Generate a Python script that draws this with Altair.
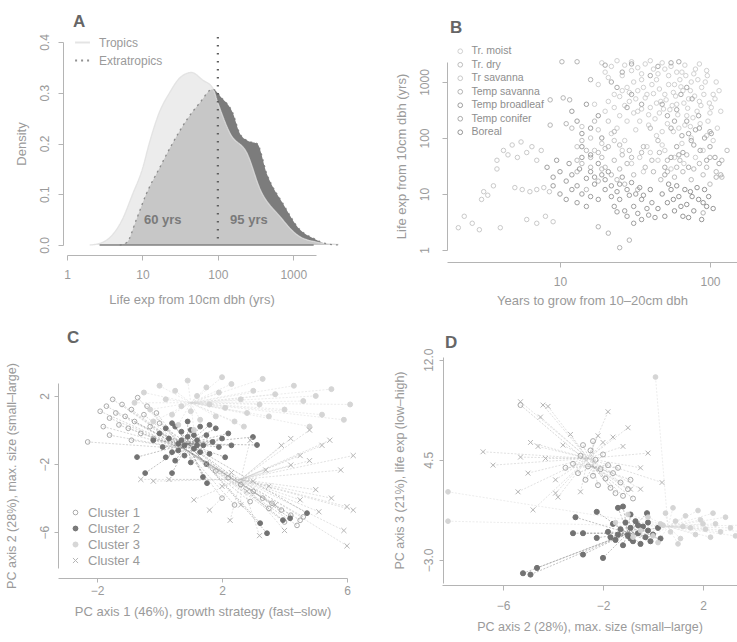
import altair as alt
import pandas as pd

W, H = 737, 642
FONT = "Liberation Sans"
AX_COL = "#b4b4b4"
TX_COL = "#9a9a9a"

# ---------------- Panel A: density of life expectancy ----------------
trop_yrs = [2.0, 2.7, 4.0, 5.4, 7.4, 10, 12.3, 16.6, 22.9, 31.6, 44.7, 63, 85, 100, 145, 245, 363, 676, 1122, 2000, 4000]
trop_den = [0.0, 0.003, 0.02, 0.05, 0.10, 0.15, 0.20, 0.26, 0.30, 0.33, 0.34, 0.325, 0.31, 0.28, 0.22, 0.18, 0.11, 0.055, 0.02, 0.006, 0.001]
extra_yrs = [5, 6.2, 8.3, 11.2, 16.6, 25, 40, 57.5, 85, 112, 158, 195, 251, 331, 447, 741, 1230, 1862, 2818, 4000]
extra_den = [0.0, 0.005, 0.05, 0.10, 0.15, 0.20, 0.25, 0.28, 0.307, 0.29, 0.26, 0.22, 0.205, 0.20, 0.14, 0.08, 0.03, 0.013, 0.002, 0.0]
a_regions = ["Tropics", "Extratropics"]
a_split = [100]
a_split_top = [0.41]
a_labels = ["60 yrs", "95 yrs"]
a_label_yrs = [18.6, 258]
a_label_den = [0.05, 0.05]

# ---------------- Panel B: growth vs life expectancy by biome ----------------
biomes = ["Tr. moist", "Tr. dry", "Tr savanna", "Temp savanna", "Temp broadleaf", "Temp conifer", "Boreal"]
b_tr_moist = [(19, 2200), (22, 1900), (24, 2400), (27, 2000), (30, 2300), (33, 1800), (37, 2100), (42, 1700), (48, 2200),
              (55, 1900), (60, 1500), (68, 2000), (80, 1700), (95, 1600),
              (18, 900), (21, 1200), (26, 700), (31, 1000), (36, 800), (44, 1100), (50, 600), (58, 900), (66, 700),
              (75, 1000), (88, 800), (105, 600),
              (17, 400), (20, 300), (25, 250), (29, 450), (34, 200), (40, 350), (46, 280), (52, 180), (60, 400),
              (70, 250), (82, 300), (97, 200), (112, 150),
              (22, 120), (27, 90), (32, 140), (38, 70), (44, 110), (50, 60), (57, 130), (65, 80), (75, 100), (90, 60),
              (30, 35), (36, 25), (45, 40), (55, 28),
              (20, 1500), (23, 600), (26, 1300), (28, 800), (32, 500), (35, 1400), (38, 600), (41, 900), (47, 450),
              (53, 1300), (57, 650), (63, 1100), (72, 500), (78, 1400), (85, 450), (93, 1000), (102, 350),
              (110, 1000), (24, 150), (28, 200), (33, 300), (39, 170), (43, 220), (48, 130), (54, 320), (62, 150),
              (68, 170), (74, 160), (86, 180), (100, 280), (118, 300), (26, 60), (34, 45), (40, 55), (48, 75),
              (58, 45), (67, 35), (80, 45), (95, 110), (105, 90),
              (21, 450), (23, 350), (25, 550), (27, 380), (29, 650), (31, 280), (33, 700), (35, 330), (37, 520),
              (39, 260), (42, 620), (44, 420), (46, 750), (49, 330), (51, 480), (53, 900), (56, 380), (59, 560),
              (61, 260), (64, 820), (67, 420), (69, 1300), (71, 340), (74, 700), (77, 230), (79, 560), (83, 1100),
              (87, 380), (91, 600), (96, 1300), (99, 420), (108, 500), (115, 700), (30, 1600), (40, 2400),
              (50, 1700), (65, 1500), (45, 1400), (35, 1100), (85, 2100)]
b_tr_dry = [(12, 150), (14, 90), (15, 60), (17, 200), (13, 40), (16, 30), (19, 45), (21, 70), (23, 130), (26, 50),
            (28, 35), (31, 22), (24, 18), (35, 55), (40, 150), (45, 90), (60, 30), (70, 50), (85, 35), (100, 45),
            (110, 25), (120, 20),
            (13, 25), (15, 12), (18, 17), (20, 30), (22, 22), (25, 28), (27, 15), (30, 45), (33, 12), (37, 30),
            (42, 25), (47, 18), (52, 40), (58, 20), (66, 25), (75, 18), (90, 22), (100, 15), (120, 40), (130, 60),
            (14, 35), (16, 45), (18, 55), (20, 65), (19, 28), (23, 40), (25, 75), (29, 60), (36, 70), (41, 40),
            (46, 55), (52, 25), (63, 40), (78, 28), (95, 30)]
b_tr_sav = [(2.1, 2.5), (2.3, 4.0), (2.6, 3.0), (3.0, 8.0), (3.1, 11), (3.3, 9.5), (3.6, 14), (3.8, 28), (3.8, 40),
            (4.2, 60), (4.5, 50), (4.8, 75), (5.2, 45), (5.5, 85), (6.0, 55), (6.5, 70), (7.0, 40), (7.5, 60),
            (5.0, 13), (5.6, 12), (6.3, 11), (7.0, 12), (7.8, 13), (8.5, 11), (6.0, 3.5), (7.0, 3.0), (8.0, 4.0),
            (9.0, 3.2), (4.0, 2.5), (2.9, 2.3),
            (16, 100), (18, 140), (21, 200), (14, 160), (19, 80), (23, 90), (17, 60), (13, 70)]
b_temp_sav = [(10.3, 2300), (13, 2300), (16, 1100), (10.5, 520), (11.6, 480), (8.6, 170), (11, 180), (8.6, 480),
              (18, 2.6), (21, 2.0), (29, 1.5), (25, 1.1), (110, 20), (90, 4.6), (118, 22), (100, 130)]
b_temp_broad = [(8.2, 30), (9, 20), (9.5, 40), (10, 25), (11, 17), (11.5, 35), (12, 22), (13, 14), (13.5, 28),
                (14, 45), (15, 19), (16, 25), (17, 15), (18, 35), (19, 22), (25, 8), (27, 5), (29, 9.5), (31, 6),
                (33, 4.5), (35, 8), (38, 5.5), (41, 7), (12, 300), (13, 200), (14, 120), (15, 400), (16, 150),
                (18, 250), (19, 100), (14, 70), (16, 50), (17, 20), (20, 12), (22, 9), (23, 6), (25, 15), (21, 25),
                (9, 14), (10, 10), (11, 8), (12, 12), (13, 7), (14, 10), (15, 6), (16, 9), (18, 8), (20, 18),
                (22, 14), (24, 11), (26, 20), (28, 12), (30, 16), (32, 10), (34, 13), (36, 9.5), (28, 4), (31, 3),
                (35, 3.5), (39, 4.2), (43, 3.8), (24, 4.8)]
b_temp_con = [(48, 400), (52, 250), (55, 150), (60, 320), (65, 110), (70, 200), (75, 90), (80, 140), (86, 60),
              (92, 100), (100, 70), (108, 45), (115, 35), (62, 50), (72, 30), (50, 22), (26, 1500), (30, 600),
              (35, 400), (40, 1300), (28, 350),
              (50, 30), (55, 45), (60, 70), (66, 55), (72, 120), (78, 75), (85, 150), (95, 40), (102, 120),
              (58, 200), (64, 600), (70, 800), (76, 500), (84, 250),
              (20, 2000), (22, 1000), (24, 800), (30, 2100), (45, 1900), (55, 2200), (62, 2300)]
b_boreal = [(48, 10), (52, 7), (55, 12), (58, 5), (62, 9), (66, 4), (70, 6.5), (74, 11), (78, 5), (84, 8),
            (88, 3.5), (95, 6), (45, 5.5), (40, 12), (60, 14),
            (50, 4), (53, 15), (57, 8), (64, 6), (68, 12), (72, 3.8), (76, 9), (82, 13), (90, 7), (98, 9),
            (105, 5.5), (92, 12)]
b_sets = [b_tr_moist, b_tr_dry, b_tr_sav, b_temp_sav, b_temp_broad, b_temp_con, b_boreal]
b_colors = ["#cdcdcd", "#b7b7b7", "#c4c4c4", "#adadad", "#959595", "#a3a3a3", "#8b8b8b"]

# ---------------- Panels C & D: PCA clusters ----------------
clusters = ["Cluster 1", "Cluster 2", "Cluster 3", "Cluster 4"]
c_centroids = [(0.8, -1.1), (0.9, -0.8), (1.0, 1.6), (2.6, -2.9)]
c_c1 = [(-1.9, 1.1), (-1.7, 1.4), (-1.6, 0.7), (-1.5, 1.8), (-1.4, 1.0), (-1.3, 0.3), (-1.2, 1.5), (-1.1, 0.8),
        (-1.0, 0.1), (-0.9, 1.2), (-0.8, 0.5), (-0.7, 1.9), (-0.6, -0.2), (-0.5, 0.9), (-0.4, 1.4), (-0.3, 0.2),
        (-0.2, -0.5), (-0.1, 1.0), (0.0, 0.4), (-1.6, -0.3), (-1.8, 0.2), (-0.9, -0.6), (-2.3, -0.7),
        (3.0, -3.6), (3.3, -4.0), (3.6, -4.3), (3.9, -4.7), (4.2, -5.0), (4.5, -5.3), (3.5, -4.6), (4.0, -5.4),
        (4.4, -5.6), (2.6, -3.2), (2.2, -2.8), (1.8, -2.4), (2.9, -4.2), (4.6, -5.1), (2.4, -4.4), (2.0, -4.0)]
c_c2 = [(-0.2, -0.6), (0.0, -0.2), (0.1, -1.0), (0.2, 0.1), (0.3, -0.5), (0.4, -1.3), (0.5, 0.2), (0.6, -0.8),
        (0.7, -0.1), (0.8, -1.5), (0.9, -0.4), (1.0, 0.0), (1.1, -1.1), (1.2, -0.6), (1.3, 0.2), (1.4, -0.9),
        (1.5, -0.3), (1.6, -1.4), (1.7, -0.7), (1.8, 0.1), (1.9, -1.0), (2.0, -0.5), (2.1, -1.6), (2.2, -0.2),
        (0.5, -1.8), (1.0, -1.9), (1.5, -2.0), (0.2, -1.6), (0.7, -0.6), (1.1, -0.3), (1.3, -1.3), (0.4, 0.4),
        (0.9, 0.5), (1.6, 0.3), (2.3, -0.9), (0.8, -0.9), (1.2, -0.9), (0.6, -1.2),
        (-0.72, -1.59), (-0.46, -2.53), (0.4, -2.53), (1.52, -3.12), (2.99, -0.41), (3.12, -0.88), (3.22, -5.47),
        (3.44, -6.06), (3.95, -5.29), (4.18, -5.18), (4.72, -4.88), (1.39, -2.76)]
c_c3 = [(-0.8, 1.6), (-0.5, 2.2), (-0.3, 1.2), (0.0, 2.6), (0.2, 1.8), (0.4, 0.9), (0.5, 2.3), (0.7, 1.4),
        (0.9, 2.9), (1.0, 1.1), (1.2, 2.0), (1.3, 0.6), (1.5, 2.5), (1.6, 1.5), (1.8, 0.8), (1.9, 2.2), (2.1, 1.3),
        (2.3, 2.7), (2.4, 0.5), (2.6, 1.8), (2.8, 1.0), (3.0, 2.3), (3.2, 1.5), (3.5, 0.8), (3.7, 2.1), (4.0, 1.2),
        (4.3, 2.6), (4.6, 1.7), (5.0, 2.0), (5.5, 2.4), (5.2, 0.9), (4.8, 0.2), (0.6, 0.3), (-0.2, 0.5), (2.0, 3.1),
        (3.3, 3.0), (1.1, 0.0), (2.7, 0.2), (5.9, 0.6), (6.1, 1.5)]
c_c4 = [(5.8, -2.35), (6.2, -1.5), (5.45, -0.6), (4.8, 0.0), (4.5, -4.1), (5.9, -5.9), (6.2, -4.7), (5.1, -4.8),
        (4.0, -5.9), (3.7, -4.4), (3.2, -6.2), (2.26, -5.3), (1.6, -4.7), (1.1, -4.1), (2.6, -4.4), (3.4, -2.35),
        (4.2, -2.06), (4.5, -1.5), (3.9, -0.9), (2.9, -0.6), (3.0, -3.0), (2.3, -2.5), (2.0, -3.3), (2.8, -3.6),
        (3.5, -3.3), (1.5, -2.0), (5.0, -3.5), (5.5, -4.0), (-0.6, -2.9), (-0.2, -3.0), (0.3, -2.9), (6.0, -6.8),
        (6.0, -4.5), (5.2, -0.9), (4.8, -1.8), (4.2, -0.5)]
c_sets = [c_c1, c_c2, c_c3, c_c4]

d_centroids = [(-2.4, 4.0), (-1.0, -1.0), (0.6, -0.5), (-2.6, 4.6)]
d_c1 = [(-3.2, 4.2), (-3.0, 3.5), (-2.9, 4.8), (-2.7, 3.0), (-2.6, 4.0), (-2.5, 5.2), (-2.4, 3.3), (-2.3, 4.5),
        (-2.2, 2.6), (-2.1, 3.8), (-2.0, 4.9), (-1.9, 3.1), (-1.8, 4.1), (-1.7, 2.4), (-1.6, 3.5), (-1.5, 2.0),
        (-1.3, 2.8), (-1.2, 1.8), (-1.0, 2.3), (-0.8, 1.6), (-2.8, 5.6), (-2.4, 5.9), (-3.5, 3.9), (-1.4, 3.9),
        (-0.9, 3.0), (-5.3, 8.6)]
d_c2 = [(-1.8, -0.9), (-1.6, -0.3), (-1.5, -1.5), (-1.3, -0.7), (-1.2, -1.9), (-1.1, -0.2), (-1.0, -1.2),
        (-0.9, -0.6), (-0.8, -1.6), (-0.7, -0.1), (-0.6, -1.0), (-0.5, -1.8), (-0.4, -0.5), (-0.3, -1.3),
        (-0.2, -0.8), (-0.1, -1.6), (0.0, -1.1), (0.2, -0.6), (0.3, -1.4), (-1.4, -1.1), (-0.9, -1.4),
        (-0.6, -0.4), (-1.7, -1.3), (-0.2, -0.2),
        (-3.1, 0.2), (-2.25, 0.6), (-1.4, 0.9), (-1.2, 1.0), (-0.9, 0.4), (-0.24, 0.5), (-3.2, -1.0), (-2.8, -1.0),
        (-2.0, -2.85), (-2.25, -1.35), (-4.64, -3.6), (-5.2, -4.0), (-4.9, -4.1), (-2.8, -2.6)]
d_c3 = [(-1.5, -0.2), (-1.0, 0.4), (-0.5, -0.8), (-0.2, 0.2), (0.0, -1.2), (0.3, -0.3), (0.5, 0.5), (0.7, -0.9),
        (0.9, -0.1), (1.1, -1.4), (1.3, 0.3), (1.5, -0.6), (1.7, -1.1), (1.9, 0.0), (2.1, -0.7), (2.3, -1.3),
        (2.5, -0.3), (2.7, -0.9), (2.9, 0.2), (3.1, -0.6), (3.3, -1.2), (3.5, -0.4), (0.2, -1.7), (1.0, -1.8),
        (1.8, 0.7), (2.4, 0.5), (0.8, 0.9), (-0.8, -1.3), (3.8, -0.9), (1.2, -0.5), (0.4, -0.4), (2.0, -0.3),
        (-8.2, 2.1), (-8.2, -0.1), (0.1, 10.7)]
d_c4 = [(-5.3, 8.85), (-4.4, 8.6), (-1.8, 8.1), (-1.6, 6.2), (-2.0, 5.8), (-6.8, 5.1), (-6.4, 4.1), (-5.4, 2.1),
        (-4.9, 5.8), (-4.6, 5.5), (-5.3, 4.7), (-5.0, 3.5), (-4.8, 0.75), (-3.9, 2.0), (-4.2, 8.5), (-4.5, 7.7),
        (-0.2, 5.0), (-0.5, 3.9), (0.36, 2.8), (-0.5, 2.3), (-0.9, 2.3), (-4.3, 4.6), (-3.9, 3.0), (-3.6, 5.6),
        (-3.3, 6.4), (-2.9, 2.1), (-2.2, 6.3), (-1.2, 5.5), (-3.8, 1.7), (-1.0, 6.9)]
d_sets = [d_c1, d_c2, d_c3, d_c4]

cl_stroke = ["#a6a6a6", "#6c6c6c", "#d3d3d3", "#b3b3b3"]
cl_fill = ["transparent", "#6c6c6c", "#d3d3d3", "transparent"]
cl_shape = ["circle", "circle", "circle", "M-1,-1L1,1M1,-1L-1,1"]
cl_size = [22, 26, 2, 18]
cl_line = ["#a8a8a8", "#7a7a7a", "#d6d6d6", "#bdbdbd"]

# ---------------- tables ----------------
a_df = pd.DataFrame({
    "region": ["Tropics"] * len(trop_yrs) + ["Extratropics"] * len(extra_yrs),
    "yrs": trop_yrs + extra_yrs,
    "den": trop_den + extra_den,
})
a_split_df = pd.DataFrame({"v": a_split, "top": a_split_top})
a_base_df = pd.DataFrame({"lo": [min(trop_yrs[1:])], "hi": [max(extra_yrs[:-2])], "z": [0.0]})
a_lab_df = pd.DataFrame({"t": a_labels, "yrs": a_label_yrs, "den": a_label_den})

b_df = pd.DataFrame([{"biome": n, "grow": x, "life": y} for n, s in zip(biomes, b_sets) for x, y in s])


def cluster_df(sets, cents):
    rows = []
    for name, s, (cx, cy) in zip(clusters, sets, cents):
        for x, y in s:
            rows.append({"cluster": name, "x": x, "y": y, "cx": cx, "cy": cy})
    return pd.DataFrame(rows)


c_df = cluster_df(c_sets, c_centroids)
d_df = cluster_df(d_sets, d_centroids)

# ---------------- axes helpers ----------------
AX = dict(grid=False, domainColor=AX_COL, tickColor=AX_COL, labelColor=TX_COL, titleColor=TX_COL,
          labelFont=FONT, titleFont=FONT, titleFontWeight="normal", labelFlush=False, labelOverlap=False,
          domainWidth=1, tickWidth=1)


def xaxis(vals, title, y_px, fmt, lsize=12, tsize=13, lpad=7, tpad=10, tick=5):
    return alt.Axis(orient="bottom", offset=y_px - H, values=vals, format=fmt, title=title,
                    labelFontSize=lsize, titleFontSize=tsize, labelPadding=lpad, titlePadding=tpad,
                    tickSize=tick, **AX)


def yaxis(vals, title, x_px, fmt, lsize=12, tsize=13, lpad=7, tpad=10, tick=5):
    return alt.Axis(orient="left", offset=-x_px, values=vals, format=fmt, title=title,
                    labelFontSize=lsize, titleFontSize=tsize, labelPadding=lpad, titlePadding=tpad,
                    tickSize=tick, labelAngle=270, labelAlign="center", labelBaseline="bottom", **AX)


def letter(t, x, y):
    return alt.Chart(pd.DataFrame({"t": [t]})).mark_text(
        font=FONT, fontSize=17, fontWeight="bold", color="#666666", align="left", baseline="middle").encode(
        x=alt.value(x), y=alt.value(y), text="t:N")


# ---------------- Panel A ----------------
xA = alt.Scale(type="log", domain=[1, 2000], range=[67, 316], nice=False)
yA = alt.Scale(domain=[0, 0.4], range=[245, 42], nice=False, zero=False)
axA = xaxis([1, 10, 100, 1000], "Life exp from 10cm dbh (yrs)", 255, "d", lpad=9, tpad=13)
ayA = yaxis([0, 0.1, 0.2, 0.3, 0.4], "Density", 63, ".1f", tpad=10)
XA = alt.X("yrs:Q", scale=xA, axis=axA)
YA = alt.Y("den:Q", scale=yA, axis=ayA)

a_extra = alt.Chart(a_df).transform_filter(alt.datum.region == "Extratropics").mark_area(
    color="#7c7c7c", opacity=1.0, interpolate="monotone").encode(x=XA, y=YA)
a_trop = alt.Chart(a_df).transform_filter(alt.datum.region == "Tropics").mark_area(
    color="#e4e4e4", opacity=0.72, interpolate="monotone").encode(x=XA, y=YA)
a_leg = alt.Legend(orient="none", legendX=74, legendY=34, title=None, symbolType="stroke",
                   symbolSize=220, symbolStrokeWidth=2, labelFont=FONT, labelFontSize=12,
                   labelColor=TX_COL, rowPadding=3, labelOffset=8)
a_lines = alt.Chart(a_df).mark_line(interpolate="monotone", strokeWidth=1.3, opacity=0.8).encode(
    x=XA, y=YA,
    color=alt.Color("region:N", scale=alt.Scale(domain=a_regions, range=["#dedede", "#777777"]), legend=a_leg),
    strokeDash=alt.StrokeDash("region:N", scale=alt.Scale(domain=a_regions, range=[[1, 0], [2, 4]]),
                              legend=a_leg),
)
a_base = alt.Chart(a_base_df).mark_rule(color="#808080", strokeWidth=1.6).encode(
    x=alt.X("lo:Q", scale=xA, axis=axA), x2="hi:Q", y=alt.Y("z:Q", scale=yA, axis=ayA))
a_vline = alt.Chart(a_split_df).mark_rule(color="#5e5e5e", strokeWidth=2.2, strokeDash=[1.5, 6.5]).encode(
    x=alt.X("v:Q", scale=xA, axis=axA), y=alt.Y("top:Q", scale=yA, axis=ayA))
a_text = alt.Chart(a_lab_df).mark_text(font=FONT, fontSize=13, fontWeight="bold", color="#7a7a7a").encode(
    x=XA, y=YA, text="t:N")
panelA = alt.layer(a_extra, a_trop, a_lines, a_base, a_vline, a_text, letter("A", 73, 22))

# ---------------- Panel B ----------------
xB = alt.Scale(type="log", domain=[1.765, 151.4], range=[447, 737], nice=False)
yB = alt.Scale(type="log", domain=[1, 2276], range=[250, 62], nice=False)
b_pts = alt.Chart(b_df).mark_point(filled=False, size=20, strokeWidth=1, opacity=0.9).encode(
    x=alt.X("grow:Q", scale=xB, axis=xaxis([10, 100], "Years to grow from 10\u201320cm dbh", 262, "d",
                                          lpad=9, tpad=7)),
    y=alt.Y("life:Q", scale=yB, axis=yaxis([1, 10, 100, 1000], "Life exp from 10cm dbh (yrs)", 447, "d",
                                          lpad=11, tpad=10)),
    color=alt.Color("biome:N", scale=alt.Scale(domain=biomes, range=b_colors),
                    legend=alt.Legend(orient="none", legendX=455, legendY=46, title=None, symbolType="circle",
                                      symbolSize=22, symbolStrokeWidth=1, labelFont=FONT, labelFontSize=10.5,
                                      labelColor="#8e8e8e", rowPadding=2.5, labelOffset=6)),
)
panelB = alt.layer(b_pts, letter("B", 450, 28))


# ---------------- Panel C & D ----------------
def cluster_panel(df, xs, ys, xax, yax, legend, let, order):
    dom = [clusters[i] for i in order]

    def pick(vals, o=order):
        return [vals[i] for i in o]

    # spider lines use their own (reversed) domain so their hidden legend never merges with the point legend
    line_order = order[::-1]
    X = alt.X("x:Q", scale=xs, axis=xax)
    Y = alt.Y("y:Q", scale=ys, axis=yax)
    rules = alt.Chart(df).mark_rule(strokeWidth=0.7, opacity=0.65, strokeDash=[2, 1.5]).encode(
        x=X, y=Y, x2="cx:Q", y2="cy:Q",
        color=alt.Color("cluster:N",
                        scale=alt.Scale(domain=[clusters[i] for i in line_order], range=pick(cl_line, line_order)),
                        legend=None))
    enc = dict(
        stroke=alt.Stroke("cluster:N", scale=alt.Scale(domain=dom, range=pick(cl_stroke))),
        fill=alt.Fill("cluster:N", scale=alt.Scale(domain=dom, range=pick(cl_fill))),
        shape=alt.Shape("cluster:N", scale=alt.Scale(domain=dom, range=pick(cl_shape))),
        size=alt.Size("cluster:N", scale=alt.Scale(domain=dom, range=pick(cl_size))),
    )
    for k in enc:
        enc[k] = enc[k].legend(legend)
    pts = alt.Chart(df).mark_point(filled=False, strokeWidth=1, opacity=0.95).encode(x=X, y=Y, **enc)
    return alt.layer(rules, pts, let)


c_legend = alt.Legend(orient="none", legendX=69, legendY=506, title=None, labelFont=FONT, labelFontSize=13,
                      labelColor=TX_COL, rowPadding=2, labelOffset=6, symbolStrokeWidth=1)
panelC = cluster_panel(
    c_df,
    alt.Scale(domain=[-3.25, 6], range=[58, 347], nice=False, zero=False),
    alt.Scale(domain=[-8.1, 2.76], range=[568, 383], nice=False, zero=False),
    xaxis([-2, 2, 6], "PC axis 1 (46%), growth strategy (fast\u2013slow)", 578, "d", lsize=12, tsize=13,
          lpad=3, tpad=9, tick=4),
    yaxis([2, -2, -6], "PC axis 2 (28%), max. size (small\u2013large)", 58, "d", lsize=12, tsize=12.5,
          lpad=3, tpad=20, tick=4),
    c_legend, letter("C", 67, 338), [0, 1, 2, 3],
)
panelD = cluster_panel(
    d_df,
    alt.Scale(domain=[-8.44, 3.36], range=[442, 737], nice=False, zero=False),
    alt.Scale(domain=[-4.73, 12.2], range=[583, 357], nice=False, zero=False),
    xaxis([-6, -2, 2], "PC axis 2 (28%), max. size (small\u2013large)", 585, "d", lsize=12, tsize=12.5,
          lpad=10, tpad=9),
    yaxis([12, 4.5, -3], "PC axis 3 (21%), life exp (low\u2013high)", 443, ".1f", lsize=12, tsize=12.5,
          lpad=4, tpad=16, tick=4),
    None, letter("D", 445, 343), [1, 0, 3, 2],
)

chart = alt.layer(panelA, panelB, panelC, panelD).resolve_scale(
    x="independent", y="independent", color="independent", stroke="independent", fill="independent",
    shape="independent", size="independent", strokeDash="independent",
).resolve_axis(x="independent", y="independent").properties(
    width=W, height=H, padding=0, autosize=alt.AutoSizeParams(type="none"), background="white"
).configure_view(stroke=None)

chart.save("out.html", embed_options={"renderer": "svg", "actions": False})
